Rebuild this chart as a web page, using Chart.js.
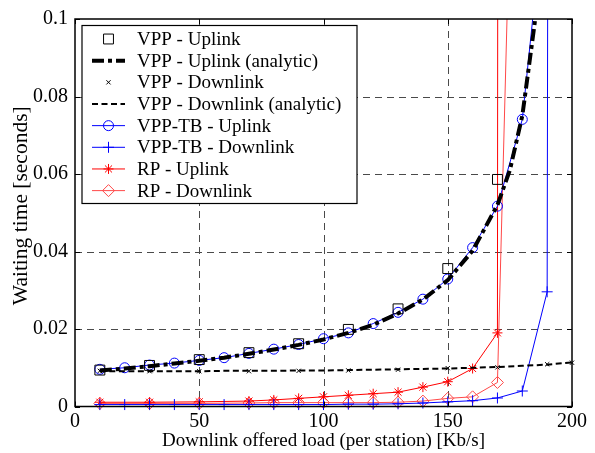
<!DOCTYPE html>
<html><head><meta charset="utf-8">
<script src="https://cdn.jsdelivr.net/npm/chart.js@4/dist/chart.umd.min.js"></script>
<style>html,body{margin:0;padding:0;background:#fff}</style>
</head><body>
<canvas id="c" width="595" height="453" style="width:595px;height:453px;display:block"></canvas>
<script>
// ---- data ----
const xVppUp = [10,30,50,70,90,110,130,150,170];
const vppUplink = [0.0094,0.0106,0.0121,0.0139,0.0162,0.0199,0.0252,0.0356,0.0586];

const xVppUpAnalytic = [10,20,30,40,50,60,70,80,90,100,110,120,130,140,150,160,170,175,180,185,188];
const vppUplinkAnalytic = [0.0093,0.0098,0.0104,0.0111,0.0118,0.0126,0.0136,0.0147,0.0159,0.0173,0.0190,0.0211,0.0240,0.0276,0.0326,0.0402,0.0520,0.0610,0.0750,0.0990,0.1300];

const xVppDown = [10,30,50,70,90,110,130,150,170,190,200];
const vppDownlink = [0.0092,0.0091,0.0091,0.0091,0.0092,0.0093,0.0095,0.0099,0.0101,0.0109,0.0113];

const xVppDownAnalytic = [10,20,30,40,50,60,70,80,90,100,110,120,130,140,150,160,170,180,190,200];
const vppDownlinkAnalytic = [0.0091,0.0091,0.0091,0.0091,0.0091,0.0092,0.0092,0.0092,0.0093,0.0093,0.0094,0.0095,0.0096,0.0097,0.0098,0.0100,0.0102,0.0105,0.0108,0.0114];

const xTbUp = [10,20,30,40,50,60,70,80,90,100,110,120,130,140,150,160,170,180,190];
const tbUplink = [0.0096,0.0100,0.0107,0.0112,0.0119,0.0126,0.0137,0.0148,0.0160,0.0175,0.0190,0.0214,0.0243,0.0277,0.0329,0.0410,0.0517,0.0741,0.1360];

const xTbDown = [10,20,30,40,50,60,70,80,90,100,110,120,130,140,150,160,170,180,190,200];
const tbDownlink = [0.0005,0.0005,0.0005,0.0005,0.0005,0.0005,0.0005,0.0005,0.0005,0.0005,0.0006,0.0006,0.0007,0.0009,0.0012,0.0015,0.0022,0.0040,0.0296,3.5];

const xRp = [10,30,50,70,80,90,100,110,120,130,140,150,160,170,180];
const rpUplink = [0.0011,0.0011,0.0012,0.0014,0.0017,0.0021,0.0025,0.0029,0.0033,0.0037,0.0050,0.0064,0.0098,0.0190,8.0];
const rpDownlink = [0.0008,0.0008,0.0008,0.0009,0.0010,0.0010,0.0010,0.0010,0.0010,0.0011,0.0014,0.0021,0.0025,0.0062,0.25];

const xTickValues = [0,50,100,150,200];
const yTickValues = [0,0.02,0.04,0.06,0.08,0.1];

const seriesNames = ['VPP - Uplink','VPP - Uplink (analytic)','VPP - Downlink','VPP - Downlink (analytic)',
  'VPP-TB - Uplink','VPP-TB - Downlink','RP - Uplink','RP - Downlink'];
const xTitle = 'Downlink offered load (per station) [Kb/s]';
const yTitle = 'Waiting time [seconds]';

const pts = (xs, ys) => xs.map((x,i)=>({x, y: ys[i]}));
const FONT = "'Liberation Serif','Times New Roman',serif";
const CLIP = {left: 8, top: 0, right: 8, bottom: 8};

const datasets = [
  {label: seriesNames[0], data: pts(xVppUp, vppUplink), showLine: false, borderColor:'#000', backgroundColor:'rgba(0,0,0,0)',
   pointStyle:'rect', pointRadius:7, pointBorderWidth:1, borderWidth:1},
  {label: seriesNames[1], data: pts(xVppUpAnalytic, vppUplinkAnalytic), borderColor:'#000', borderWidth:4, borderDash:[12,4,4,4],
   pointRadius:0},
  {label: seriesNames[2], data: pts(xVppDown, vppDownlink), showLine:false, borderColor:'#000', backgroundColor:'rgba(0,0,0,0)',
   pointStyle:'crossRot', pointRadius:3, pointBorderWidth:1, borderWidth:1},
  {label: seriesNames[3], data: pts(xVppDownAnalytic, vppDownlinkAnalytic), borderColor:'#000', borderWidth:2, borderDash:[6,3.5],
   pointRadius:0},
  {label: seriesNames[4], data: pts(xTbUp, tbUplink), borderColor:'#0000ff', backgroundColor:'rgba(0,0,0,0)', borderWidth:1,
   pointStyle:'circle', pointRadius:5, pointBorderWidth:1},
  {label: seriesNames[5], data: pts(xTbDown, tbDownlink), borderColor:'#0000ff', backgroundColor:'rgba(0,0,0,0)', borderWidth:1,
   pointStyle:'cross', pointRadius:5.5, pointBorderWidth:1},
  {label: seriesNames[6], data: pts(xRp, rpUplink), borderColor:'#ff0000', backgroundColor:'rgba(0,0,0,0)', borderWidth:1,
   pointStyle:'star', pointRadius:5, pointBorderWidth:1},
  {label: seriesNames[7], data: pts(xRp, rpDownlink), borderColor:'#ff4848', backgroundColor:'rgba(0,0,0,0)', borderWidth:1,
   pointStyle:'rectRot', pointRadius:6, pointBorderWidth:1},
];
datasets.forEach(d => { d.clip = CLIP; d.tension = 0; d.fill = false; });

function drawMarker(ctx, style, r, x, y) {
  ctx.beginPath();
  switch (style) {
    case 'rect': { const s = r*Math.SQRT1_2; ctx.rect(x-s, y-s, 2*s, 2*s); break; }
    case 'circle': ctx.arc(x, y, r, 0, Math.PI*2); break;
    case 'cross': ctx.moveTo(x-r,y); ctx.lineTo(x+r,y); ctx.moveTo(x,y-r); ctx.lineTo(x,y+r); break;
    case 'crossRot': { const s=r*Math.SQRT1_2; ctx.moveTo(x-s,y-s); ctx.lineTo(x+s,y+s); ctx.moveTo(x-s,y+s); ctx.lineTo(x+s,y-s); break; }
    case 'star': { ctx.moveTo(x-r,y); ctx.lineTo(x+r,y); ctx.moveTo(x,y-r); ctx.lineTo(x,y+r);
      const s=r*Math.SQRT1_2; ctx.moveTo(x-s,y-s); ctx.lineTo(x+s,y+s); ctx.moveTo(x-s,y+s); ctx.lineTo(x+s,y-s); break; }
    case 'rectRot': ctx.moveTo(x, y-r); ctx.lineTo(x+r, y); ctx.lineTo(x, y+r); ctx.lineTo(x-r, y); ctx.closePath(); break;
  }
  ctx.stroke();
}

const framePlugin = {
  id: 'frame',
  beforeDatasetsDraw(chart) {
    const {ctx, chartArea: a, scales: {x, y}} = chart;
    ctx.save();
    ctx.strokeStyle = '#4a4a4a'; ctx.lineWidth = 1; ctx.setLineDash([7,5]);
    xTickValues.forEach(v => {
      if (v <= x.min || v >= x.max) return;
      const px = Math.round(x.getPixelForValue(v)) + 0.5;
      ctx.beginPath(); ctx.moveTo(px, a.top); ctx.lineTo(px, a.bottom); ctx.stroke();
    });
    yTickValues.forEach(v => {
      if (v <= y.min || v >= y.max) return;
      const py = Math.round(y.getPixelForValue(v)) + 0.5;
      ctx.beginPath(); ctx.moveTo(a.left, py); ctx.lineTo(a.right, py); ctx.stroke();
    });
    ctx.restore();
  },
  afterDatasetsDraw(chart) {
    const {ctx, chartArea: a, scales: {x, y}} = chart;
    ctx.save();
    // axes box with inward ticks
    ctx.strokeStyle = '#000'; ctx.lineWidth = 1.5; ctx.setLineDash([]);
    ctx.strokeRect(a.left, a.top, a.right - a.left, a.bottom - a.top);
    ctx.lineWidth = 1;
    const tl = 5;
    xTickValues.forEach(v => {
      const px = Math.round(x.getPixelForValue(v)) + 0.5;
      ctx.beginPath(); ctx.moveTo(px, a.bottom); ctx.lineTo(px, a.bottom - tl);
      ctx.moveTo(px, a.top); ctx.lineTo(px, a.top + tl); ctx.stroke();
    });
    yTickValues.forEach(v => {
      const py = Math.round(y.getPixelForValue(v)) + 0.5;
      ctx.beginPath(); ctx.moveTo(a.left, py); ctx.lineTo(a.left + tl, py);
      ctx.moveTo(a.right, py); ctx.lineTo(a.right - tl, py); ctx.stroke();
    });
    // y axis title
    ctx.save();
    ctx.translate(21, (a.top + a.bottom) / 2 - 7);
    ctx.rotate(-Math.PI / 2);
    ctx.font = '21.5px ' + FONT; ctx.fillStyle = '#000';
    ctx.textAlign = 'center'; ctx.textBaseline = 'middle';
    ctx.fillText(yTitle, 0, 0);
    ctx.restore();
    // legend
    const bx = a.left + 7, by = a.top + 6.5, bw = 275, bh = 178;
    ctx.fillStyle = '#fff'; ctx.fillRect(bx, by, bw, bh);
    ctx.strokeStyle = '#000'; ctx.lineWidth = 1.2; ctx.strokeRect(bx, by, bw, bh);
    ctx.font = '19px ' + FONT; ctx.textBaseline = 'middle'; ctx.fillStyle = '#000';
    chart.data.datasets.forEach((d, i) => {
      const ry = by + 13.5 + i * 21.66;
      const x0 = a.left + 17, x1 = a.left + 50, xm = (x0 + x1) / 2;
      ctx.save();
      if (d.showLine !== false) {
        ctx.strokeStyle = d.borderColor; ctx.lineWidth = d.borderWidth;
        ctx.setLineDash(d.borderDash || []);
        ctx.beginPath(); ctx.moveTo(x0, ry); ctx.lineTo(x1, ry); ctx.stroke();
      }
      if (d.pointRadius > 0) {
        ctx.setLineDash([]); ctx.strokeStyle = d.borderColor; ctx.lineWidth = d.pointBorderWidth || 1;
        drawMarker(ctx, d.pointStyle, d.pointRadius, xm, ry);
      }
      ctx.restore();
      ctx.fillStyle = '#000';
      ctx.fillText(d.label, a.left + 62, ry + 1);
    });
    ctx.restore();
  }
};

new Chart(document.getElementById('c'), {
  type: 'line',
  data: { datasets },
  options: {
    responsive: false, animation: false, devicePixelRatio: 1,
    layout: { padding: { top: 17, right: 23, left: 0, bottom: 0 } },
    plugins: { legend: { display: false }, tooltip: { enabled: false } },
    elements: { line: { tension: 0 } },
    scales: {
      x: {
        type: 'linear', min: 0, max: 200,
        afterBuildTicks: s => { s.ticks = xTickValues.map(v => ({value: v})); },
        afterFit: s => { s.height = 46.5; },
        grid: { display: false, drawTicks: false },
        border: { display: false },
        ticks: { color: '#000', font: { family: FONT, size: 20 }, padding: 3, maxRotation: 0, autoSkip: false },
        title: { display: true, text: xTitle, color: '#000',
                 font: { family: FONT, size: 19 }, padding: { top: 0, bottom: 1 } }
      },
      y: {
        type: 'linear', min: 0, max: 0.1,
        afterBuildTicks: s => { s.ticks = yTickValues.map(v => ({value: v})); },
        afterFit: s => { s.width = 75; },
        grid: { display: false, drawTicks: false },
        border: { display: false },
        ticks: { color: '#000', font: { family: FONT, size: 20 }, padding: 7, autoSkip: false,
                 callback: v => String(Number(v.toFixed(2))) },
        title: { display: false }
      }
    }
  },
  plugins: [framePlugin]
});
</script>
</body></html>
